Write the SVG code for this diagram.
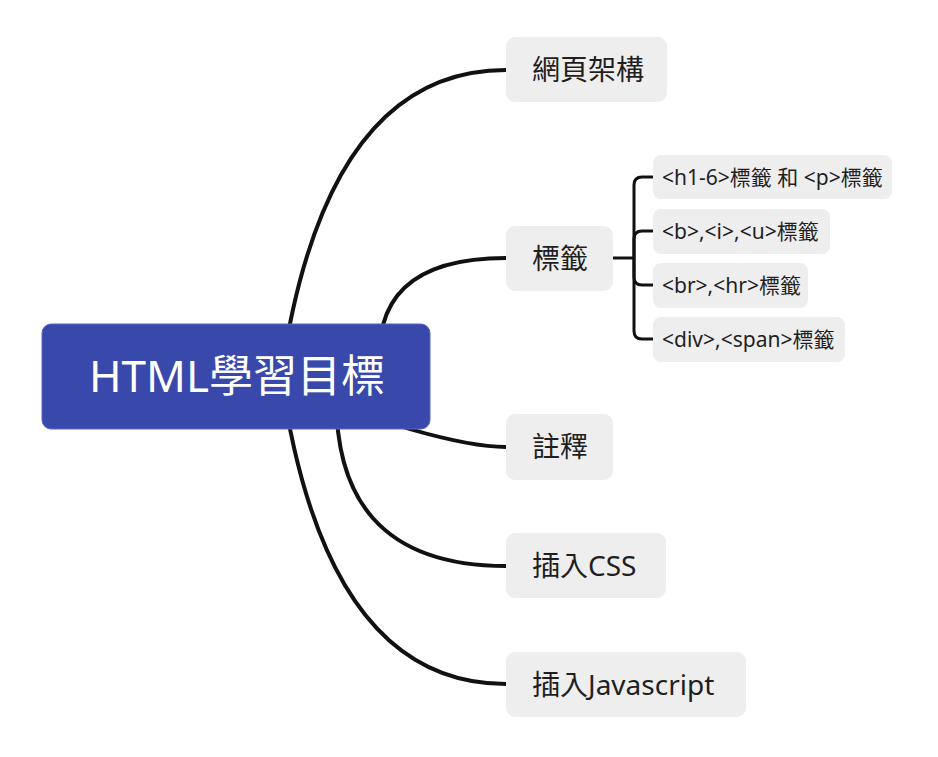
<svg xmlns="http://www.w3.org/2000/svg" width="938" height="757" viewBox="0 0 938 757">
<style>
.conn{fill:none;stroke:#111111;stroke-width:4;stroke-linecap:round}
.sub{fill:none;stroke:#111111;stroke-width:3;stroke-linecap:butt}
.box{fill:#eeeeee}
.t1{font-family:"Noto Sans","Noto Sans CJK TC",sans-serif;font-size:28px;fill:#1f1f1f}
.t2{font-family:"Noto Sans","Noto Sans CJK TC",sans-serif;font-size:21px;fill:#1f1f1f}
.root{font-family:"Noto Sans","Noto Sans CJK TC",sans-serif;font-size:44px;fill:#ffffff}
</style>
<rect width="938" height="757" fill="#ffffff"/>
<g id="connectors">
<path class="conn" d="M281,376 Q325,70 506,70"/>
<path class="conn" d="M381,376 Q366,258 506,258"/>
<path class="conn" d="M258,376 Q439,447 506,447"/>
<path class="conn" d="M337,376 Q325,566 506,566"/>
<path class="conn" d="M281,376 Q325,684 506,684"/>
<path class="sub" d="M613,258 H634"/>
<path class="sub" d="M634,258 V185 Q634,177 642,177 H653"/>
<path class="sub" d="M634,258 V239 Q634,231 642,231 H653"/>
<path class="sub" d="M634,258 V277 Q634,285 642,285 H653"/>
<path class="sub" d="M634,258 V331 Q634,339 642,339 H653"/>
</g>
<g id="root">
<rect x="42" y="324" width="388" height="105" rx="9" fill="#3949ab" stroke="#5a68c2" stroke-width="1"/>
<text class="root" x="237" y="392" text-anchor="middle">HTML學習目標</text>
</g>
<g id="n1">
<rect class="box" x="506" y="37" width="161" height="65" rx="9"/>
<text class="t1" x="532" y="80">網頁架構</text>
</g>
<g id="n2">
<rect class="box" x="506" y="226" width="107" height="65" rx="9"/>
<text class="t1" x="532" y="269">標籤</text>
</g>
<g id="n2a">
<rect class="box" x="653" y="155" width="239" height="44" rx="8"/>
<text class="t2" x="662" y="185">&lt;h1-6&gt;標籤 和 &lt;p&gt;標籤</text>
</g>
<g id="n2b">
<rect class="box" x="653" y="209" width="177" height="45" rx="8"/>
<text class="t2" x="662" y="239">&lt;b&gt;,&lt;i&gt;,&lt;u&gt;標籤</text>
</g>
<g id="n2c">
<rect class="box" x="653" y="263" width="155" height="45" rx="8"/>
<text class="t2" x="662" y="293">&lt;br&gt;,&lt;hr&gt;標籤</text>
</g>
<g id="n2d">
<rect class="box" x="653" y="317" width="192" height="45" rx="8"/>
<text class="t2" x="662" y="347">&lt;div&gt;,&lt;span&gt;標籤</text>
</g>
<g id="n3">
<rect class="box" x="506" y="414" width="107" height="66" rx="9"/>
<text class="t1" x="532" y="457">註釋</text>
</g>
<g id="n4">
<rect class="box" x="506" y="533" width="160" height="65" rx="9"/>
<text class="t1" x="532" y="576">插入CSS</text>
</g>
<g id="n5">
<rect class="box" x="506" y="652" width="240" height="65" rx="9"/>
<text class="t1" x="532" y="695">插入Javascript</text>
</g>
</svg>
